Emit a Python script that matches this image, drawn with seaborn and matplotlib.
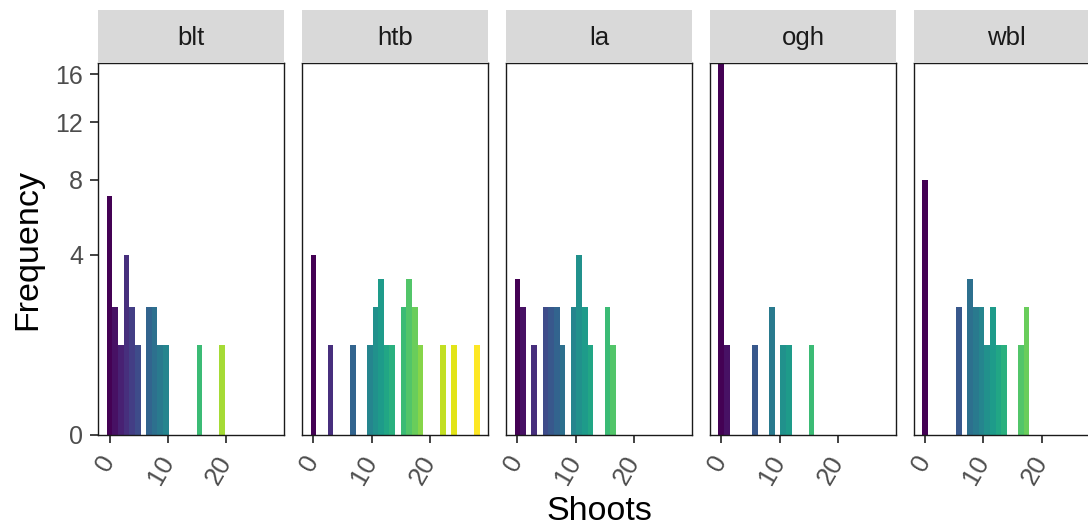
import numpy as np
import pandas as pd
import matplotlib
matplotlib.use("Agg")
import matplotlib.pyplot as plt
from matplotlib.patches import Rectangle
from matplotlib.transforms import ScaledTranslation
import seaborn as sns

sns.set_theme(style="white")
plt.rcParams["font.family"] = ["Liberation Sans", "DejaVu Sans"]

# Sites shown as facets, left to right
sites = ["blt", "htb", "la", "ogh", "wbl"]

# Frequency of shoot counts per histogram bin (30 bins spanning 0-28 shoots)
blt_counts = [7, 2, 1, 4, 2, 1, 0, 2, 2, 1, 1, 0, 0, 0, 0, 0, 1, 0, 0, 0, 1, 0, 0, 0, 0, 0, 0, 0, 0, 0]
htb_counts = [4, 0, 0, 1, 0, 0, 0, 1, 0, 0, 1, 2, 3, 1, 1, 0, 2, 3, 2, 1, 0, 0, 0, 1, 0, 1, 0, 0, 0, 1]
la_counts = [3, 2, 0, 1, 0, 2, 2, 2, 1, 0, 2, 4, 2, 1, 0, 0, 2, 1, 0, 0, 0, 0, 0, 0, 0, 0, 0, 0, 0, 0]
ogh_counts = [17, 1, 0, 0, 0, 0, 1, 0, 0, 2, 0, 1, 1, 0, 0, 0, 1, 0, 0, 0, 0, 0, 0, 0, 0, 0, 0, 0, 0, 0]
wbl_counts = [8, 0, 0, 0, 0, 0, 2, 0, 3, 2, 2, 1, 2, 1, 1, 0, 0, 1, 2, 0, 0, 0, 0, 0, 0, 0, 0, 0, 0, 0]

x_ticks = [0, 10, 20]
y_ticks = [0, 4, 8, 12, 16]

# Bin geometry
n_bins = 30
shoot_min, shoot_max = 0, 28
centers = np.linspace(shoot_min, shoot_max, n_bins)
bw = (shoot_max - shoot_min) / (n_bins - 1)
bin_range = (shoot_min - bw / 2, shoot_max + bw / 2)

counts_by_site = {
    "blt": blt_counts, "htb": htb_counts, "la": la_counts,
    "ogh": ogh_counts, "wbl": wbl_counts,
}
df = pd.concat(
    [pd.DataFrame({"site": s, "bin": np.arange(n_bins), "shoots": centers,
                   "count": counts_by_site[s]}) for s in sites],
    ignore_index=True,
)

# Fill is a discrete viridis scale (end to end) over the distinct shoot values observed
observed_bins = sorted(df.loc[df["count"] > 0, "bin"].unique())
viridis = matplotlib.colormaps["viridis"]
level_colors = [viridis(v) for v in np.linspace(0, 1, len(observed_bins))]
bin_color = {b: level_colors[j] for j, b in enumerate(observed_bins)}

W, H = 1088, 529
fig = plt.figure(figsize=(W / 100, H / 100), dpi=100)

panel_left0, panel_step, panel_w = 98.3, 203.9, 185.8
panel_top, panel_bottom = 63, 435
strip_top = 10

span = bin_range[1] - bin_range[0]
xlim = (bin_range[0] - 0.05 * span, bin_range[1] + 0.05 * span)

text_col = "#4D4D4D"
tick_col = "#333333"

def sqrt_fwd(v):
    return np.sqrt(np.clip(v, 0, None))

def sqrt_inv(v):
    return np.square(v)

for i, site in enumerate(sites):
    left = panel_left0 + panel_step * i
    ax = fig.add_axes([left / W, (H - panel_bottom) / H, panel_w / W,
                       (panel_bottom - panel_top) / H])
    sub = df[df["site"] == site]
    sns.histplot(data=sub, x="shoots", weights="count", bins=n_bins,
                 binrange=bin_range, ax=ax, stat="count", element="bars",
                 fill=True, linewidth=0, alpha=1)
    for p in ax.patches:
        cx = p.get_x() + p.get_width() / 2
        b = int(round((cx - shoot_min) / bw))
        if p.get_height() > 0:
            p.set_facecolor(bin_color[b])
        p.set_edgecolor("none")

    ax.set_yscale("function", functions=(sqrt_fwd, sqrt_inv))
    ax.set_ylim(0, 17)
    ax.set_xlim(*xlim)
    ax.set_xticks(x_ticks)
    ax.set_xticklabels([str(t) for t in x_ticks], rotation=60, ha="right",
                       va="center", rotation_mode="anchor", fontsize=18.5,
                       color=text_col)
    shift = ScaledTranslation(13 / 100, 0, fig.dpi_scale_trans)
    for lab in ax.get_xticklabels():
        lab.set_transform(lab.get_transform() + shift)
    ax.set_yticks(y_ticks)
    ax.yaxis.set_minor_locator(matplotlib.ticker.NullLocator())
    ax.set_xlabel("")
    ax.set_ylabel("")
    ax.tick_params(axis="x", bottom=True, length=6, width=1.3, color=tick_col, pad=10)
    if i == 0:
        ax.set_yticklabels([str(t) for t in y_ticks], fontsize=18, color=text_col)
        ax.tick_params(axis="y", left=True, length=6, width=1.3, color=tick_col, pad=5)
    else:
        ax.tick_params(axis="y", left=False, labelleft=False)
    for sp in ax.spines.values():
        sp.set_visible(True)
        sp.set_color("#1A1A1A")
        sp.set_linewidth(1.0)
    ax.grid(False)
    ax.set_facecolor("white")

    # facet strip
    fig.add_artist(Rectangle((left / W, (H - panel_top) / H), panel_w / W,
                             (panel_top - strip_top) / H, transform=fig.transFigure,
                             facecolor="#D9D9D9", edgecolor="none"))
    fig.text((left + panel_w / 2) / W, (H - (panel_top + strip_top) / 2 - 1.5) / H, site,
             ha="center", va="center", fontsize=18.5, color="#1A1A1A")

fig.text((panel_left0 + panel_step * 4 + panel_w + panel_left0) / 2 / W, (H - 512) / H,
         "Shoots", ha="center", va="center", fontsize=24.5, color="black")
fig.text(28 / W, (H - (panel_top + panel_bottom) / 2) / H, "Frequency",
         ha="center", va="center", rotation=90, fontsize=24.5, color="black")

fig.savefig("out.png", dpi=100, facecolor="white")
